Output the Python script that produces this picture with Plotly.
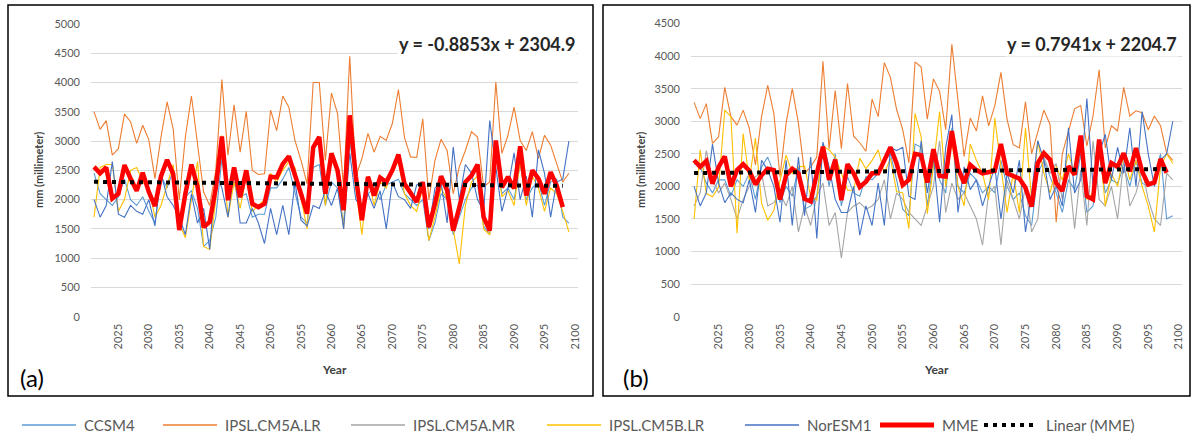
import plotly.graph_objects as go

W, H = 1196, 436

years = list(range(2021, 2100))          # model years 2021-2099
mme_years = list(range(2021, 2099))      # MME years 2021-2098

# ---------------- Panel (a) ----------------
ccsm4_a = [2450, 2100, 2000, 1900, 2050, 2350, 2000, 1900, 2050, 1800,
           1600, 2400, 2200, 2500, 1500, 2050, 2150, 1850, 1200, 1300,
           1700, 2700, 2000, 2300, 2050, 2100, 1700, 1750, 1750, 2200,
           2200, 2350, 2550, 2100, 1700, 1600, 2550, 2600, 1900, 2300,
           2200, 1600, 3000, 2300, 1700, 2100, 2200, 2000, 2250, 2300,
           2350, 2100, 2000, 1900, 2000, 1300, 1600, 2100, 2000, 1400,
           1700, 2000, 2200, 2250, 1550, 1400, 2800, 2100, 2200, 2000,
           2600, 2000, 2200, 2300, 1900, 2300, 2350, 1700, 1600]
lr_a = [3500, 3200, 3350, 2760, 2870, 3460, 3330, 2960, 3270, 3020,
        2360, 3070, 3670, 3210, 2000, 3070, 3770, 2960, 2130, 1900,
        2500, 4050, 2760, 3620, 2810, 3510, 2500, 2430, 2440, 3530,
        3180, 3770, 3580, 3010, 2670, 2270, 4000, 4000, 2670, 3820,
        3470, 2200, 4450, 2400, 2700, 3130, 2810, 3080, 3010, 3300,
        3880, 3060, 2730, 2720, 3380, 2000, 2670, 3030, 2840, 2100,
        2560, 2840, 3160, 3070, 2220, 2300, 4010, 2790, 3100, 3580,
        3010, 2840, 3160, 2700, 3100, 2930, 2610, 2300, 2450]
cm5b_a = [1700, 2550, 2600, 2600, 1800, 2000, 2500, 2550, 2300, 2200,
          1700, 1900, 2250, 2600, 1600, 1350, 2000, 2650, 1200, 1150,
          2000, 3100, 1700, 2300, 1850, 2400, 1800, 1900, 2000, 2450,
          2300, 2500, 2650, 2550, 2050, 1500, 2850, 3050, 1900, 2750,
          2400, 1500, 3200, 2200, 1400, 2400, 1900, 2300, 2200, 2500,
          2650, 2100, 1900, 1800, 2200, 1300, 1700, 2200, 2000, 1500,
          900, 1900, 2300, 2400, 1500, 1400, 2800, 2050, 2150, 1900,
          2650, 1900, 2400, 2200, 1800, 2200, 2100, 1800, 1450]
nor_a = [2000, 1700, 1900, 2650, 1750, 1700, 1900, 1800, 1750, 2000,
         1550, 2450, 2050, 1900, 1700, 1400, 2100, 1600, 1850, 1150,
         2450, 2200, 1700, 2500, 1600, 1600, 1850, 1600, 1250, 1850,
         1400, 1900, 1400, 2300, 1650, 1550, 1900, 1850, 2150, 1900,
         2200, 1500, 2800, 2000, 1850, 2100, 1850, 2150, 1500, 2300,
         2050, 2000, 1850, 2250, 2300, 1500, 2200, 2300, 1600, 2900,
         2000, 2600, 2450, 2000, 1800, 3350, 2550, 1800, 2200, 2800,
         2000, 2400, 1700, 2850, 2450, 1700, 2300, 2350, 3000]
mme_a = [2560, 2450, 2550, 2020, 2100, 2590, 2360, 2150, 2460, 2130,
         1890, 2400, 2680, 2440, 1480, 2100, 2600, 2220, 1530, 1620,
         2200, 3080, 1990, 2550, 2040, 2500, 1930, 1870, 1930, 2390,
         2380, 2610, 2740, 2440, 2100, 1760, 2890, 3070, 2100, 2790,
         2500, 1820, 3440, 2400, 1650, 2390, 2070, 2375, 2300, 2500,
         2770, 2270, 2130, 1960, 2300, 1530, 1930, 2400, 2160, 1470,
         1870, 2300, 2410, 2600, 1700, 1470, 3010, 2210, 2390, 2190,
         2910, 2070, 2500, 2360, 2100, 2470, 2240, 1870]
slope_a, intercept_a = -0.8853, 2304.9

# ---------------- Panel (b) ----------------
ccsm4_b = [2350, 2300, 2050, 1900, 2100, 2100, 1850, 2100, 2000, 2200,
           1800, 2300, 2450, 2200, 1750, 2000, 1850, 2300, 1650, 1700,
           1850, 2650, 2000, 2500, 1700, 2150, 1900, 1850, 2150, 2100,
           2200, 2400, 2500, 2100, 1650, 1550, 2650, 2600, 1700, 2400,
           2100, 1900, 2900, 2000, 1900, 2200, 2100, 1900, 2000, 1900,
           2400, 2000, 1800, 1900, 1550, 1400, 2200, 2400, 2150, 1900,
           1600, 2100, 1950, 2500, 1600, 1700, 2500, 1900, 2100, 2050,
           2300, 2000, 2400, 2050, 2000, 2100, 2500, 1500, 1550]
lr_b = [3290, 3040, 3270, 2660, 2760, 3520, 3070, 2940, 3170, 2890,
        2330, 3070, 3550, 3120, 2150, 2970, 3500, 2970, 2200, 2300,
        2450, 3920, 2580, 3470, 2580, 3580, 2770, 2670, 2540, 3340,
        3070, 3900, 3670, 3180, 2870, 2360, 3910, 3830, 3030, 3650,
        3460, 2870, 4180, 3280, 2460, 3050, 2850, 3390, 2930, 3240,
        3750, 3030, 2640, 2590, 3300, 2500, 2850, 3170, 2950, 1450,
        2500, 2860, 3190, 3240, 2620, 3080, 3790, 2590, 2930, 2850,
        3520, 3080, 3160, 3130, 2870, 3080, 2930, 2510, 2400]
mr_b = [1700, 1900, 2550, 2100, 1900, 2050, 1800, 1500, 1800, 2000,
        2150, 2200, 1700, 1750, 1900, 1700, 2000, 1300, 1700, 1400,
        1850, 2050, 1400, 1600, 900, 1600, 1700, 1750, 1650, 1700,
        1800, 2100, 1500, 1900, 1800, 1600, 1500, 1400, 1700, 2000,
        2700, 1600, 2050, 1800, 1900, 1700, 1500, 1100, 1900, 2000,
        1100, 2100, 1800, 1500, 2000, 1300, 1500, 2450, 2200, 2350,
        1800, 2300, 1350, 2250, 1400, 2700, 1800, 1700, 2000, 1500,
        2400, 1700, 1900, 2250, 1800, 1500, 1400, 2200, 2100]
cm5b_b = [1500, 2560, 1890, 1840, 1990, 3170, 3070, 1280, 2810, 2090,
          2740, 1740, 1480, 1630, 2090, 2480, 2200, 2300, 2310, 1840,
          1790, 2620, 2560, 2450, 2200, 1940, 1940, 2430, 2270, 2400,
          2560, 2200, 2430, 1920, 1900, 1350, 3120, 2760, 1580, 2300,
          3150, 2000, 2700, 2000, 1700, 2650, 2400, 2200, 1800, 3050,
          2300, 1600, 2200, 1600, 2900, 1800, 2700, 2200, 1900, 2300,
          2100, 2500, 2200, 2600, 1800, 1900, 2700, 1700, 2200, 2000,
          2500, 2100, 2400, 2000, 1700, 1300, 2300, 2500, 2350]
nor_b = [2000, 1700, 1900, 2650, 2050, 1750, 1900, 1800, 1750, 2100,
         1600, 2400, 2250, 2000, 1450, 2400, 1400, 2450, 1550, 2450,
         1200, 2680, 2300, 1800, 1600, 1600, 2000, 1250, 1700, 1400,
         2050, 1400, 2600, 2550, 2600, 1850, 1800, 2700, 1900, 2450,
         1450, 2600, 3100, 1600, 2300, 1950, 2100, 1700, 2000, 2300,
         1500, 2200, 1900, 2400, 1300, 1900, 2700, 2400, 1800, 2000,
         1700, 2900, 1900, 2100, 3350, 2000, 2500, 2800, 2100, 2600,
         2200, 2900, 2000, 3150, 2500, 2000, 2400, 2500, 3000]
mme_b = [2400, 2300, 2390, 2040, 2300, 2460, 2000, 2250, 2340, 2240,
         2030, 2170, 2270, 2250, 1800, 2170, 2270, 2200, 1810, 1770,
         2200, 2610, 2100, 2410, 1790, 2340, 2200, 1990, 2070, 2200,
         2200, 2400, 2600, 2350, 2020, 2100, 2500, 2480, 2060, 2570,
         2160, 2150, 2850, 2280, 2050, 2330, 2250, 2200, 2220, 2240,
         2650, 2200, 2160, 2120, 1980, 1690, 2360, 2510, 2410, 2050,
         1930, 2310, 2180, 2780, 1850, 1800, 2720, 2050, 2360, 2300,
         2510, 2230, 2590, 2230, 2030, 2060, 2420, 2210]
slope_b, intercept_b = 0.7941, 2204.7

x_ticks = list(range(2025, 2101, 5))

names = ["CCSM4", "IPSL.CM5A.LR", "IPSL.CM5A.MR", "IPSL.CM5B.LR", "NorESM1"]
colors = {"CCSM4": "#5B9BD5", "IPSL.CM5A.LR": "#ED7D31", "IPSL.CM5A.MR": "#A5A5A5",
          "IPSL.CM5B.LR": "#FFC000", "NorESM1": "#4472C4"}
MME_COLOR = "#FF0000"
TREND_DASH = "4px,5px"

FONT = "Lato"
fig = go.Figure()


def add_panel(series, mme, slope, intercept, xa, ya):
    for nm in names:
        vals = series.get(nm)
        if vals is None:
            continue
        fig.add_trace(go.Scatter(x=years[:len(vals)], y=vals, mode="lines", name=nm,
                                 line=dict(color=colors[nm], width=1.1),
                                 xaxis=xa, yaxis=ya, showlegend=False))
    fig.add_trace(go.Scatter(x=mme_years, y=mme, mode="lines", name="MME",
                             line=dict(color=MME_COLOR, width=4.5),
                             xaxis=xa, yaxis=ya, showlegend=False))
    idx = list(range(1, len(mme_years) + 1))
    trend = [slope * i + intercept for i in idx]
    fig.add_trace(go.Scatter(x=mme_years, y=trend, mode="lines", name="Linear (MME)",
                             line=dict(color="#000000", width=4, dash=TREND_DASH),
                             xaxis=xa, yaxis=ya, showlegend=False))


add_panel({"CCSM4": ccsm4_a, "IPSL.CM5A.LR": lr_a, "IPSL.CM5B.LR": cm5b_a, "NorESM1": nor_a},
          mme_a, slope_a, intercept_a, "x", "y")
add_panel({"CCSM4": ccsm4_b, "IPSL.CM5A.LR": lr_b, "IPSL.CM5A.MR": mr_b,
           "IPSL.CM5B.LR": cm5b_b, "NorESM1": nor_b},
          mme_b, slope_b, intercept_b, "x2", "y2")


def px_x(p):
    return p / W


def px_y(p):
    return 1 - p / H


tickfont = dict(family=FONT, size=11, color="#595959")
xcommon = dict(range=[2020.5, 2100.5], tickmode="array", tickvals=x_ticks,
               ticktext=[str(t) for t in x_ticks], tickangle=-90, tickfont=tickfont,
               showgrid=False, showline=False, zeroline=False, ticks="",
               ticklabelstandoff=4, automargin=False)
ycommon = dict(tickfont=tickfont, showgrid=True, gridcolor="#D9D9D9", gridwidth=1,
               zeroline=False, showline=False, ticks="", ticklabelstandoff=10,
               automargin=False)

fig.update_layout(
    width=W, height=H, autosize=False, margin=dict(l=0, r=0, t=0, b=0, pad=0),
    paper_bgcolor="white", plot_bgcolor="white",
    font=dict(family=FONT, color="#595959"),
    xaxis=dict(domain=[px_x(91), px_x(578)], anchor="y", **xcommon),
    yaxis=dict(domain=[px_y(316.7), px_y(24)], anchor="x", range=[0, 5000],
               tickvals=list(range(0, 5001, 500)), **ycommon),
    xaxis2=dict(domain=[px_x(691), px_x(1182)], anchor="y2", **xcommon),
    yaxis2=dict(domain=[px_y(316.7), px_y(23.5)], anchor="x2", range=[0, 4500],
                tickvals=list(range(0, 4501, 500)), **ycommon),
    showlegend=False,
)

shapes = []
for x0, x1 in [(8, 593), (603, 1190)]:
    shapes.append(dict(type="rect", xref="paper", yref="paper",
                       x0=px_x(x0), x1=px_x(x1), y0=px_y(396), y1=px_y(5),
                       line=dict(color="black", width=1.5), fillcolor="rgba(0,0,0,0)"))

ann = []


def add_text(text, x, y, size, color, xanchor="center", yanchor="middle", angle=0, bg=None):
    d = dict(text=text, x=px_x(x), y=px_y(y), xref="paper", yref="paper",
             xanchor=xanchor, yanchor=yanchor, showarrow=False, textangle=angle,
             font=dict(family=FONT, size=size, color=color))
    if bg:
        d["bgcolor"] = bg
    ann.append(d)


# Manual legend (line sample start px, label)
legend_items = [
    (22, "CCSM4", colors["CCSM4"], 1.5, "solid"),
    (163, "IPSL.CM5A.LR", colors["IPSL.CM5A.LR"], 1.5, "solid"),
    (351, "IPSL.CM5A.MR", colors["IPSL.CM5A.MR"], 1.5, "solid"),
    (547, "IPSL.CM5B.LR", colors["IPSL.CM5B.LR"], 1.5, "solid"),
    (745, "NorESM1", colors["NorESM1"], 1.5, "solid"),
    (880, "MME", MME_COLOR, 5, "solid"),
    (984, "Linear (MME)", "#000000", 4, TREND_DASH),
]
LEG_Y = 425
for x0, lab, col, wd, dash in legend_items:
    shapes.append(dict(type="line", xref="paper", yref="paper",
                       x0=px_x(x0), x1=px_x(x0 + 54), y0=px_y(LEG_Y), y1=px_y(LEG_Y),
                       line=dict(color=col, width=wd, dash=dash)))
    add_text(lab, x0 + 60, LEG_Y, 15, "#595959", xanchor="left")
fig.update_layout(shapes=shapes)

add_text("<b>y = -0.8853x + 2304.9</b>", 577, 44, 18, "#262626", xanchor="right", bg="white")
add_text("<b>y = 0.7941x + 2204.7</b>", 1179, 44, 18, "#262626", xanchor="right", bg="white")
add_text("<b>Year</b>", 334, 369, 12, "#404040")
add_text("<b>Year</b>", 936, 369, 12, "#404040")
add_text("<b>mm (millimeter)</b>", 38, 170, 11, "#404040", angle=-90)
add_text("<b>mm (millimeter)</b>", 640, 170, 11, "#404040", angle=-90)
add_text("(a)", 18, 377, 24, "black", xanchor="left")
add_text("(b)", 621, 377, 24, "black", xanchor="left")
fig.update_layout(annotations=ann)

fig.write_html("out.html", config={"responsive": False, "displayModeBar": False},
               post_script="document.body.style.margin='0';document.body.style.overflow='hidden';")
